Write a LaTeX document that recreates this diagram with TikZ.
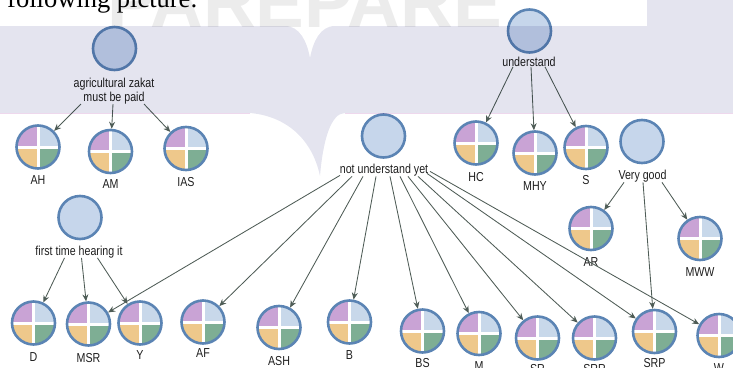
\documentclass[tikz,border=0pt]{standalone}
\usepackage{fontspec}
\setmainfont{Liberation Sans}[FakeStretch=0.82]
\newfontfamily\docserif{Liberation Serif}
\newfontfamily\markfont{Liberation Sans}
\usetikzlibrary{arrows.meta}

\definecolor{ringblue}{HTML}{5B84B4}
\definecolor{parentfill}{HTML}{C6D6EB}
\definecolor{qpurple}{HTML}{C9A3D5}
\definecolor{qblue}{HTML}{C8D8EA}
\definecolor{qyellow}{HTML}{EEC88B}
\definecolor{qgreen}{HTML}{7EAE94}
\definecolor{arrowgrey}{HTML}{4E5C56}
\definecolor{bandgrey}{HTML}{E4E4EF}
\definecolor{bandedge}{HTML}{F2DCF0}
\definecolor{markgrey}{HTML}{ECECEC}
\definecolor{textdark}{HTML}{1E1E1E}

\tikzset{
  parent/.style={circle, minimum size=43pt, inner sep=0pt, fill=parentfill,
    draw=ringblue, line width=2.6pt},
  leaf/.style={circle, minimum size=43pt, inner sep=0pt, draw=ringblue, line width=2.6pt,
    path picture={
      \fill[qpurple] (path picture bounding box.center) rectangle (path picture bounding box.north west);
      \fill[qblue]   (path picture bounding box.center) rectangle (path picture bounding box.north east);
      \fill[qyellow] (path picture bounding box.center) rectangle (path picture bounding box.south west);
      \fill[qgreen]  (path picture bounding box.center) rectangle (path picture bounding box.south east);
      \draw[white, line width=3pt]
        (path picture bounding box.north) -- (path picture bounding box.south)
        (path picture bounding box.west) -- (path picture bounding box.east);
    }},
  lbl/.style={inner sep=0pt, text=textdark, font=\fontsize{13}{14}\selectfont},
  llabel/.style={lbl, anchor=base},
  arr/.style={draw=arrowgrey, line width=0.85pt,
    -{Stealth[length=7pt, width=6pt, fill=arrowgrey]}},
}

\begin{document}
\begin{tikzpicture}[x=1pt, y=-1pt]
\useasboundingbox (0,0) rectangle (733,367);
\clip (0,0) rectangle (733,367);

% faint watermark and the running text of the page above the band
\node[anchor=base west, inner sep=0pt, text=markgrey,
  font=\markfont\bfseries\fontsize{73}{80}\selectfont] (watermark) at (107,27) {PAREPARE};
\node[anchor=base west, inner sep=0pt, text=black,
  font=\docserif\fontsize{26.5}{30}\selectfont] (pagetext) at (7,7) {following picture:};

% ---------- group: agricultural zakat must be paid ----------
\node[parent] (agri) at (114.5,48.5) {};
\node[lbl, anchor=north, align=center] (agriL) at (114,77.5) {agricultural zakat\\must be paid};
\node[leaf] (AH)  at (38,147)     {}; \node[llabel] (AHl)  at (38,184.5)  {AH};
\node[leaf] (AM)  at (110.5,151.5){}; \node[llabel] (AMl)  at (110.5,188.5) {AM};
\node[leaf] (IAS) at (186,148.5)  {}; \node[llabel] (IASl) at (186,186.5) {IAS};

% ---------- group: first time hearing it ----------
\node[parent] (first) at (80,217.5) {};
\node[llabel] (firstL) at (79,255) {first time hearing it};
\node[leaf] (D)   at (33.5,323) {}; \node[llabel] (Dl)   at (33.5,361)   {D};
\node[leaf] (MSR) at (88.5,324) {}; \node[llabel] (MSRl) at (88.5,362.5) {MSR};
\node[leaf] (Y)   at (140,323)  {}; \node[llabel] (Yl)   at (140,359.5)  {Y};
\node[leaf] (AF)  at (203,322)  {}; \node[llabel] (AFl)  at (203,357.5)  {AF};

% ---------- group: not understand yet ----------
\node[parent] (nuy) at (383.5,136) {};
\node[llabel] (nuyL) at (384,173.5) {not understand yet};
\node[leaf] (ASH) at (279,327.5) {}; \node[llabel] (ASHl) at (279,365)   {ASH};
\node[leaf] (B)   at (349.5,322) {}; \node[llabel] (Bl)   at (349.5,359.5) {B};
\node[leaf] (BS)  at (422.5,331) {}; \node[llabel] (BSl)  at (422.5,367) {BS};
\node[leaf] (M)   at (479,333.5) {}; \node[llabel] (Ml)   at (479,370.5) {M};
\node[leaf] (SR)  at (537.5,338) {}; \node[llabel] (SRl)  at (537.5,373) {SR};
\node[leaf] (SRR) at (594.5,338) {}; \node[llabel] (SRRl) at (594.5,373) {SRR};
\node[leaf] (SRP) at (654.5,331.5) {}; \node[llabel] (SRPl) at (654.5,367.3) {SRP};
\node[leaf] (W)   at (719,335.5) {}; \node[llabel] (Wl)   at (719,372) {W};

% ---------- group: understand ----------
\node[parent] (und) at (529.5,31) {};
\node[llabel] (undL) at (529,66.5) {understand};
\node[leaf] (HC)  at (476,143)   {}; \node[llabel] (HCl)  at (476,181)   {HC};
\node[leaf] (MHY) at (535,153)   {}; \node[llabel] (MHYl) at (535,190.5) {MHY};
\node[leaf] (S)   at (586,147.5) {}; \node[llabel] (Sl)   at (586,184.5) {S};

% ---------- group: Very good ----------
\node[parent] (vg) at (642,141.5) {};
\node[llabel] (vgL) at (642.5,179.5) {Very good};
\node[leaf] (AR)  at (591,228.5) {}; \node[llabel] (ARl)  at (591,266) {AR};
\node[leaf] (MWW) at (700,238.5) {}; \node[llabel] (MWWl) at (700,276) {MWW};

% ---------- connectors ----------
\draw[arr] ([xshift=-33pt]agriL.south) -- (AH);
\draw[arr] ([xshift=-1pt]agriL.south) -- (AM);
\draw[arr] ([xshift=30pt]agriL.south) -- (IAS);

\draw[arr] ([xshift=-14.5pt]firstL.south) -- (D);
\draw[arr] ([xshift=2.5pt]firstL.south) -- (MSR);
\draw[arr] ([xshift=18.5pt]firstL.south) -- (Y);

\draw[arr] ([xshift=-16pt]undL.south) -- (HC);
\draw[arr] ([xshift=2pt]undL.south) -- (MHY);
\draw[arr] ([xshift=16pt]undL.south) -- (S);

\draw[arr] ([xshift=-18.5pt]vgL.south) -- (AR);
\draw[arr] ([xshift=0.5pt]vgL.south) -- (SRP);
\draw[arr] ([xshift=19.5pt]vgL.south) -- (MWW);

\draw[arr] ([xshift=-44pt,yshift=1pt]nuyL.south) -- (MSR);
\draw[arr] ([xshift=-32pt]nuyL.south) -- (AF);
\draw[arr] ([xshift=-21pt]nuyL.south) -- (ASH);
\draw[arr] ([xshift=-8pt]nuyL.south) -- (B);
\draw[arr] ([xshift=6pt]nuyL.south) -- (BS);
\draw[arr] ([xshift=16pt]nuyL.south) -- (M);
\draw[arr] ([xshift=24pt]nuyL.south) -- (SR);
\draw[arr] ([xshift=34pt]nuyL.south) -- (SRR);
\draw[arr] ([xshift=43pt,yshift=3pt]nuyL.south) -- (SRP);
\draw[arr] ([xshift=46pt,yshift=5pt]nuyL.south) -- (W);

% ---------- translucent watermark band laid over everything ----------
\begin{scope}[blend mode=multiply]
  \fill[bandgrey]
    (0,26) -- (285,26) .. controls (300,26) and (307,42) .. (310,58)
    .. controls (313,42) and (320,26) .. (335,26) -- (647,26) -- (647,0)
    -- (733,0) -- (733,113) -- (345,113)
    .. controls (331,113) and (323,140) .. (320,176)
    .. controls (312,138) and (285,116) .. (250,113) -- (0,113) -- cycle;
  \draw[bandedge, line width=1.2pt] (0,113.5) -- (250,113.5) (345,113.5) -- (733,113.5);
\end{scope}
\end{tikzpicture}
\end{document}
